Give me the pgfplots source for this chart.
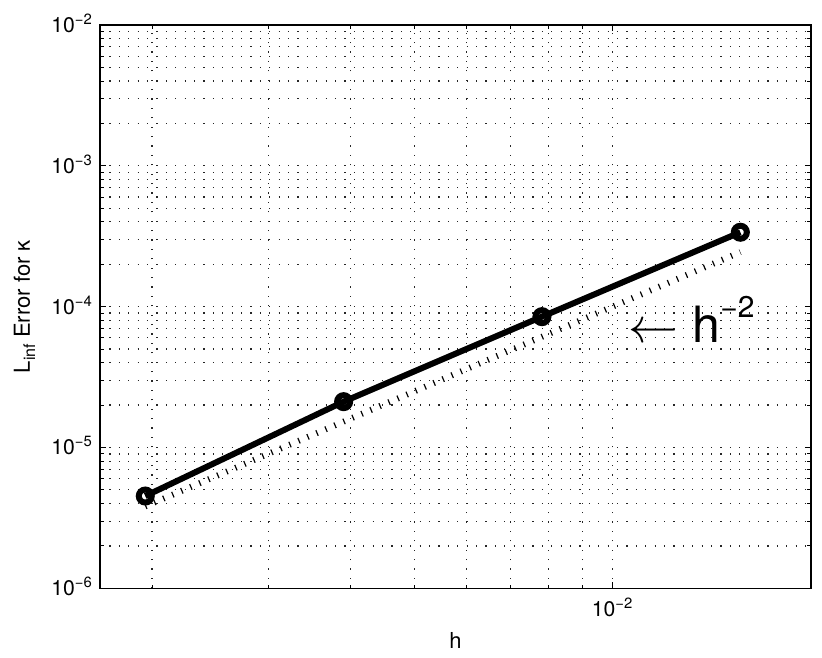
\documentclass[border=0pt]{standalone}
\usepackage{fontspec}
\setmainfont{TeX Gyre Heros}
\usepackage{pgfplots}
\pgfplotsset{compat=1.18}
\usetikzlibrary{calc}

\begin{document}
\begin{tikzpicture}
\begin{loglogaxis}[
    name=ax,
    scale only axis,
    width=355.5pt, height=281.65pt,
    xmin=1.667e-3, xmax=2e-2,
    ymin=1e-6, ymax=1e-2,
    xtick={1e-2},
    xticklabels={10\textsuperscript{−2}},
    minor xtick={2e-3,3e-3,4e-3,5e-3,6e-3,7e-3,8e-3,9e-3,2e-2},
    ytick={1e-6,1e-5,1e-4,1e-3,1e-2},
    yticklabels={10\textsuperscript{−6},10\textsuperscript{−5},10\textsuperscript{−4},10\textsuperscript{−3},10\textsuperscript{−2}},
    minor ytick={2e-6,3e-6,4e-6,5e-6,6e-6,7e-6,8e-6,9e-6,
                 2e-5,3e-5,4e-5,5e-5,6e-5,7e-5,8e-5,9e-5,
                 2e-4,3e-4,4e-4,5e-4,6e-4,7e-4,8e-4,9e-4,
                 2e-3,3e-3,4e-3,5e-3,6e-3,7e-3,8e-3,9e-3},
    grid=both,
    major grid style={black!85, line width=0.6pt, dash pattern=on 0.6pt off 4.1pt},
    minor grid style={black!85, line width=0.6pt, dash pattern=on 0.6pt off 4.1pt},
    major tick length=3pt, minor tick length=1.8pt,
    tick style={black, line width=0.5pt},
    axis line style={line width=0.6pt},
    every tick label/.append style={font=\fontsize{10.6}{12}\selectfont},
    yticklabel style={anchor=base east, yshift=-3.7pt},
    xticklabel style={yshift=-1.5pt},
    xlabel={h},
    ylabel={L\raisebox{-2.6pt}{\fontsize{8}{9}\selectfont inf} Error for κ},
    label style={font=\fontsize{11}{13}\selectfont},
    xlabel style={at={(axis description cs:0.5,-0.106)}, anchor=base},
    ylabel style={at={(axis description cs:-0.0985,0.5)}, anchor=base},
]
% measured error
\addplot[black, line width=3pt, mark=o, mark size=3.25pt, mark options={solid}]
    coordinates {(0.001953125,4.52e-6) (0.00390625,2.115e-5) (0.0078125,8.49e-5) (0.015625,3.376e-4)};
% reference slope h^2
\addplot[black, line width=3pt, dash pattern=on 0.6pt off 4.3pt]
    coordinates {(0.001953125,3.815e-6) (0.00390625,1.526e-5) (0.0078125,6.104e-5) (0.015625,2.441e-4)};
\node[anchor=base west, inner sep=0pt, font=\fontsize{25}{30}\selectfont]
    at (axis cs:0.010573,5.55e-5) {$\leftarrow$ h\raisebox{12.4pt}{\fontsize{15}{18}\selectfont −2}};
\end{loglogaxis}
\pgfresetboundingbox
\path[use as bounding box] ($(ax.south west)+(-50pt,-34.85pt)$) rectangle ($(ax.north east)+(5.5pt,12.5pt)$);
\end{tikzpicture}
\end{document}
